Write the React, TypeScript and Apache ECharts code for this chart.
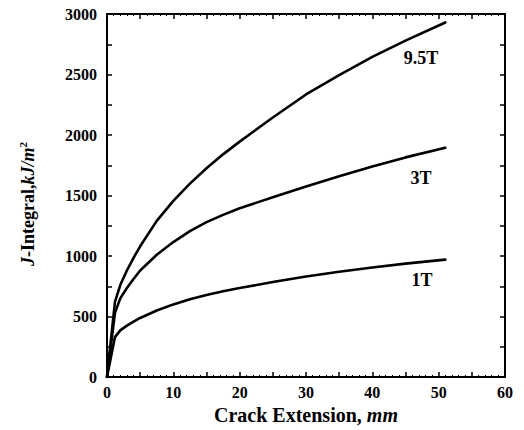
import React, { useEffect, useRef } from "react";
import * as echarts from "echarts";

const crackExt = [0, 1.2, 2, 3, 4, 5, 7.5, 10, 12.5, 15, 17.5, 20, 25, 30, 35, 40, 45, 51];
const j95T = [0, 620, 760, 880, 985, 1080, 1290, 1455, 1598, 1725, 1840, 1945, 2145, 2335, 2495, 2645, 2780, 2930];
const j3T = [0, 530, 650, 735, 810, 880, 1010, 1115, 1205, 1280, 1340, 1395, 1485, 1575, 1660, 1740, 1815, 1895];
const j1T = [0, 330, 385, 425, 458, 488, 550, 600, 642, 677, 708, 735, 785, 830, 870, 905, 937, 970];
const seriesNames = ["9.5T", "3T", "1T"];
const xTicks = { min: 0, max: 60, step: 5, labelStep: 10 };
const yTicks = { min: 0, max: 3000, step: 250, labelStep: 500 };

const FONT = "'Liberation Serif', 'Times New Roman', serif";

export default function App() {
  const ref = useRef<HTMLDivElement>(null);
  useEffect(() => {
    if (!ref.current) return;
    const chart = echarts.init(ref.current, null, { renderer: "svg" });
    const pair = (ys: number[]) => crackExt.map((x, i) => [x, ys[i]]);
    const axisCommon = {
      type: "value" as const,
      splitLine: { show: false },
      axisLine: { show: true, onZero: false, lineStyle: { color: "#000", width: 2 } },
      axisTick: { show: true, inside: true, length: 5, lineStyle: { color: "#000", width: 1.5 } },
    };
    chart.setOption({
      animation: false,
      backgroundColor: "#fff",
      grid: { left: 107, top: 14, right: 19, bottom: 53 },
      xAxis: [
        {
          ...axisCommon,
          position: "bottom",
          min: xTicks.min,
          max: xTicks.max,
          interval: xTicks.step,
          minorTick: { show: true, splitNumber: 5, length: 2, lineStyle: { color: "#000", width: 1 } },
          axisLabel: {
            margin: 7,
            color: "#000",
            fontFamily: FONT,
            fontWeight: "bold",
            fontSize: 16,
            formatter: (v: number) => (v % xTicks.labelStep === 0 ? String(v) : ""),
          },
          name: "{a|Crack Extension, }{b|mm}",
          nameLocation: "middle",
          nameGap: 25,
          nameTextStyle: {
            rich: {
              a: { fontFamily: FONT, fontWeight: "bold", fontSize: 20, color: "#000" },
              b: { fontFamily: FONT, fontWeight: "bold", fontStyle: "italic", fontSize: 20, color: "#000" },
            },
          },
        },
        {
          ...axisCommon,
          position: "top",
          min: xTicks.min,
          max: xTicks.max,
          interval: xTicks.step,
          minorTick: { show: true, splitNumber: 5, length: 2, lineStyle: { color: "#000", width: 1 } },
          axisLabel: { show: false },
        },
      ],
      yAxis: [
        {
          ...axisCommon,
          position: "left",
          min: yTicks.min,
          max: yTicks.max,
          interval: yTicks.step,
          axisLabel: {
            margin: 10,
            color: "#000",
            fontFamily: FONT,
            fontWeight: "bold",
            fontSize: 16,
            formatter: (v: number) => (v % yTicks.labelStep === 0 ? String(v) : ""),
          },
        },
        {
          ...axisCommon,
          position: "right",
          min: yTicks.min,
          max: yTicks.max,
          interval: yTicks.step,
          axisLabel: { show: false },
        },
      ],
      series: [j95T, j3T, j1T].map((ys, i) => ({
        name: seriesNames[i],
        type: "line",
        xAxisIndex: 0,
        yAxisIndex: 0,
        data: pair(ys),
        showSymbol: false,
        smooth: false,
        lineStyle: { color: "#000", width: 2.6, join: "round", cap: "round" },
      })),
      graphic: [
        {
          type: "text",
          x: 28,
          y: 204,
          rotation: Math.PI / 2,
          style: {
            text: "{i|J}{b|-Integral,}{i|kJ/m}{s|2}",
            align: "center",
            verticalAlign: "middle",
            fill: "#000",
            rich: {
              i: { fontFamily: FONT, fontWeight: "bold", fontStyle: "italic", fontSize: 18, fill: "#000" },
              b: { fontFamily: FONT, fontWeight: "bold", fontSize: 18, fill: "#000" },
              s: { fontFamily: FONT, fontWeight: "bold", fontSize: 11, fill: "#000", verticalAlign: "top", padding: [0, 0, 10, 0] },
            },
          },
        },
        ...[
          { t: seriesNames[0], x: 421, y: 58 },
          { t: seriesNames[1], x: 421, y: 178 },
          { t: seriesNames[2], x: 422, y: 280 },
        ].map((l) => ({
          type: "text",
          x: l.x,
          y: l.y,
          style: {
            text: l.t,
            align: "center",
            verticalAlign: "middle",
            fontFamily: FONT,
            fontWeight: "bold",
            fontSize: 18,
            fill: "#000",
          },
        })),
      ],
    });
    return () => chart.dispose();
  }, []);
  return <div ref={ref} style={{ width: 524, height: 430, position: "absolute", left: 0, top: 0 }} />;
}
